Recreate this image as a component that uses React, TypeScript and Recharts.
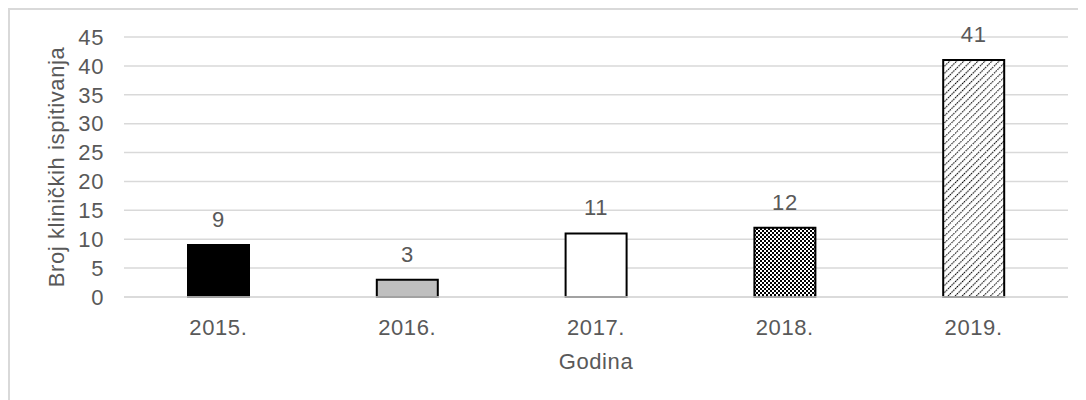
import React, { useLayoutEffect } from 'react';
import { BarChart, Bar, XAxis, YAxis, CartesianGrid, Cell, LabelList } from 'recharts';

const categories = ['2015.', '2016.', '2017.', '2018.', '2019.'];
const values = [9, 3, 11, 12, 41];
const yTicks = [0, 5, 10, 15, 20, 25, 30, 35, 40, 45];
const barFills = ['#000000', '#bfbfbf', '#ffffff', 'url(#checker)', 'url(#hatch)'];

const data = categories.map((c, i) => ({ year: c, value: values[i] }));

const FONT = '"Liberation Sans", Arial, sans-serif';
const TEXT = '#595959';
const FS = 22;
const LS = 0.6;

export default function App() {
  useLayoutEffect(() => {
    document.documentElement.style.overflow = 'hidden';
    document.body.style.overflow = 'hidden';
  }, []);
  return (
    <div>
      <svg width={0} height={0} style={{ position: 'absolute' }}>
        <defs>
          <pattern id="checker" width={4} height={4} patternUnits="userSpaceOnUse">
            <rect width={4} height={4} fill="#ffffff" />
            <rect x={0} y={0} width={2} height={2} fill="#000" />
            <rect x={2} y={2} width={2} height={2} fill="#000" />
            <rect x={1} y={1} width={1} height={1} fill="#000" />
          </pattern>
          <pattern id="hatch" width={5} height={5} patternUnits="userSpaceOnUse" patternTransform="rotate(45)">
            <rect width={5} height={5} fill="#ffffff" />
            <line x1={0} y1={0} x2={0} y2={5} stroke="#000" strokeWidth={2.2} strokeDasharray="1.6 0.9" />
          </pattern>
        </defs>
      </svg>
      <div
        style={{
          width: 1076,
          height: 390,
          borderTop: '2px solid #d9d9d9',
          borderLeft: '2px solid #d9d9d9',
          background: '#fff',
          fontFamily: FONT,
        }}
      >
        <BarChart
          width={1076}
          height={380}
          data={data}
          margin={{ top: 27, right: 18, left: 0, bottom: 13 }}
        >
          <CartesianGrid vertical={false} stroke="#d9d9d9" strokeWidth={1.5} />
          <XAxis
            dataKey="year"
            height={80}
            axisLine={{ stroke: '#d9d9d9', strokeWidth: 1.5 }}
            tickLine={false}
            tickSize={0}
            tickMargin={22}
            tick={{ fill: TEXT, fontSize: FS, fontFamily: FONT, letterSpacing: LS }}
            label={{
              value: 'Godina',
              position: 'insideBottom',
              offset: 8,
              fill: TEXT,
              fontSize: FS,
              fontFamily: FONT,
              style: { letterSpacing: LS },
            }}
          />
          <YAxis
            width={114}
            domain={[0, 45]}
            ticks={yTicks}
            interval={0}
            axisLine={false}
            tickLine={false}
            tickSize={0}
            tickMargin={20}
            tick={{ fill: TEXT, fontSize: FS, fontFamily: FONT, letterSpacing: LS }}
            label={{
              value: 'Broj kliničkih ispitivanja',
              angle: -90,
              position: 'insideLeft',
              offset: 46,
              fill: TEXT,
              fontSize: FS,
              fontFamily: FONT,
              style: { textAnchor: 'middle', letterSpacing: LS },
            }}
          />
          <Bar dataKey="value" barSize={61} stroke="#000" strokeWidth={2} isAnimationActive={false}>
            {data.map((d, i) => (
              <Cell key={d.year} fill={barFills[i]} />
            ))}
            <LabelList
              dataKey="value"
              position="top"
              offset={18}
              fill={TEXT}
              fontSize={FS}
              fontFamily={FONT}
              style={{ letterSpacing: LS }}
            />
          </Bar>
        </BarChart>
      </div>
    </div>
  );
}
